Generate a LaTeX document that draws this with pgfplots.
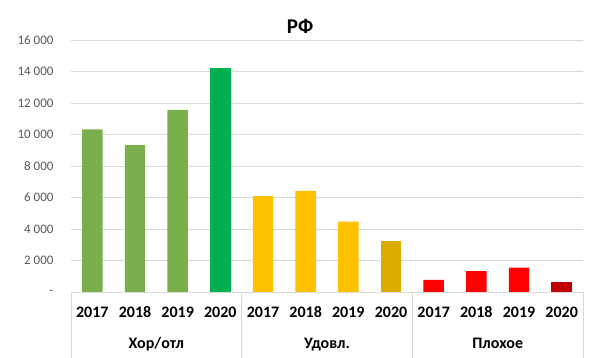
\documentclass[border=0pt]{standalone}
\usepackage{fontspec}
\setmainfont{Carlito}
\usepackage{pgfplots}
\pgfplotsset{compat=1.18}
\definecolor{lgreen}{HTML}{7AB04C}
\definecolor{bgreen}{HTML}{00B050}
\definecolor{yel}{HTML}{FFC000}
\definecolor{dyel}{HTML}{DDAB00}
\definecolor{red1}{HTML}{FF0000}
\definecolor{dred}{HTML}{C00000}
\definecolor{gridc}{HTML}{D9D9D9}
\definecolor{ticktext}{HTML}{595959}
\begin{document}
\begin{tikzpicture}
\useasboundingbox (-71pt,-66pt) rectangle (529pt,292pt);
\begin{axis}[
  scale only axis, width=512pt, height=252pt,
  at={(0pt,0pt)}, anchor=south west,
  xmin=-0.5, xmax=11.5, ymin=0, ymax=16000,
  clip=false,
  scaled y ticks=false,
  axis line style={draw=none},
  ymajorgrids, grid style={gridc, line width=0.8pt},
  major tick length=0pt,
  xtick={0,...,11},
  xticklabels={2017,2018,2019,2020,2017,2018,2019,2020,2017,2018,2019,2020},
  xticklabel style={font=\fontsize{16}{17}\selectfont\bfseries, text=black, anchor=base, yshift=-26pt},
  ytick={0,2000,...,16000},
  yticklabels={{-\hspace{7pt}},2 000,4 000,6 000,8 000,10 000,12 000,14 000,16 000},
  yticklabel style={font=\fontsize{13}{14}\selectfont, text=ticktext, xshift=-14pt},
]
\addplot[ybar, bar width=0.48, fill=lgreen, draw=none] coordinates {(0,10330) (1,9333) (2,11556)};
\addplot[ybar, bar width=0.48, fill=bgreen, draw=none] coordinates {(3,14243)};
\addplot[ybar, bar width=0.48, fill=yel, draw=none] coordinates {(4,6095) (5,6413) (6,4465)};
\addplot[ybar, bar width=0.48, fill=dyel, draw=none] coordinates {(7,3259)};
\addplot[ybar, bar width=0.48, fill=red1, draw=none] coordinates {(8,762) (9,1333) (10,1545)};
\addplot[ybar, bar width=0.48, fill=dred, draw=none] coordinates {(11,635)};
\foreach \xx in {-0.5,3.5,7.5,11.5}{
  \edef\temp{\noexpand\draw[gridc, line width=0.8pt] (axis cs:\xx,0) -- ([yshift=-66pt]axis cs:\xx,0);}
  \temp
}
\node[font=\fontsize{16}{17}\selectfont\bfseries, anchor=base] at ([yshift=-57pt]axis cs:1.5,0) {Хор/отл};
\node[font=\fontsize{16}{17}\selectfont\bfseries, anchor=base] at ([yshift=-57pt]axis cs:5.5,0) {Удовл.};
\node[font=\fontsize{16}{17}\selectfont\bfseries, anchor=base] at ([yshift=-57pt]axis cs:9.5,0) {Плохое};
\node[font=\fontsize{21}{23}\selectfont\bfseries, anchor=base] at ([yshift=258pt]axis cs:4.87,0) {РФ};
\end{axis}
\end{tikzpicture}
\end{document}
